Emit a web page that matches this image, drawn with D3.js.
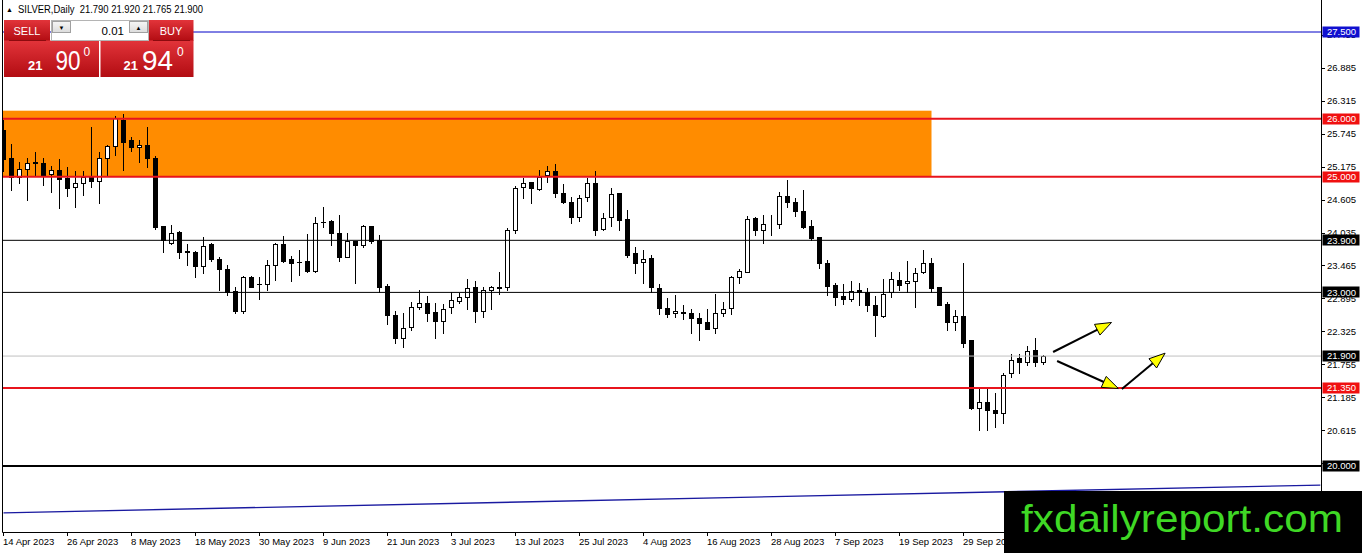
<!DOCTYPE html>
<html>
<head>
<meta charset="utf-8">
<script src="https://cdn.jsdelivr.net/npm/d3@7"></script>
<style>
  html, body { margin: 0; padding: 0; background: #fff; overflow: hidden; }
  svg { display: block; font-family: "Liberation Sans", Arial, sans-serif; }
</style>
</head>
<body>
<svg id="chart" width="1362" height="553"></svg>
<script>
// SILVER daily candles, 14 Apr 2023 .. (131 bars)
const opens = [
  25.80, 25.32, 25.00, 25.14, 25.25, 25.23, 25.05, 25.12, 24.97, 24.82,
  24.89, 25.00, 24.93, 25.33, 25.53, 25.98, 25.63, 25.51, 25.55, 25.33,
  24.15, 23.86, 24.05, 23.71, 23.70, 23.46, 23.84, 23.57, 23.40, 23.02,
  22.68, 23.26, 23.15, 23.15, 23.47, 23.84, 23.57, 23.53, 23.54, 23.37,
  24.22, 24.24, 24.02, 23.62, 23.89, 23.82, 24.15, 23.90, 23.11, 22.61,
  22.21, 22.41, 22.74, 22.81, 22.66, 22.51, 22.74, 22.86, 22.92, 23.10,
  22.67, 23.04, 23.09, 23.09, 24.07, 24.82, 24.90, 24.78, 25.03, 25.10,
  24.71, 24.57, 24.30, 24.64, 24.89, 24.09, 24.31, 24.71, 24.26, 23.68,
  23.53, 23.59, 23.07, 22.73, 22.65, 22.66, 22.64, 22.55, 22.48, 22.38,
  22.64, 22.73, 23.27, 23.36, 24.28, 24.07, 24.18, 24.18, 24.67, 24.56,
  24.40, 24.15, 23.95, 23.50, 23.13, 22.93, 22.88, 23.04, 23.01, 22.78,
  22.59, 23.01, 23.21, 23.16, 23.19, 23.36, 23.50, 23.09, 22.80, 22.49,
  22.59, 22.17, 21.00, 21.11, 20.97, 20.92, 21.61, 21.86, 21.79, 22.00, 21.79
];
const highs = [
  25.98, 25.56, 25.26, 25.32, 25.43, 25.32, 25.18, 25.30, 25.17, 25.09,
  25.09, 25.86, 25.43, 25.55, 26.04, 26.08, 25.69, 25.63, 25.86, 25.36,
  24.15, 24.16, 24.06, 23.84, 23.71, 23.96, 23.86, 23.62, 23.47, 23.10,
  23.28, 23.28, 23.27, 23.56, 23.86, 23.97, 23.63, 23.73, 24.01, 24.31,
  24.48, 24.25, 24.34, 24.02, 23.89, 24.16, 24.15, 23.99, 23.15, 22.68,
  22.64, 22.84, 23.04, 22.93, 22.82, 22.80, 23.01, 22.99, 23.24, 23.19,
  23.10, 23.11, 23.36, 24.11, 24.84, 24.97, 24.90, 25.11, 25.18, 25.22,
  24.87, 24.64, 24.68, 24.97, 25.10, 24.37, 24.80, 24.71, 24.42, 23.78,
  23.73, 23.65, 23.15, 22.90, 22.95, 22.78, 22.71, 22.65, 22.72, 22.97,
  22.84, 23.28, 23.40, 24.32, 24.31, 24.33, 24.33, 24.74, 24.95, 24.63,
  24.77, 24.25, 23.96, 23.56, 23.16, 23.15, 23.19, 23.17, 23.07, 22.93,
  23.24, 23.36, 23.36, 23.55, 23.43, 23.73, 23.59, 23.09, 22.84, 22.70,
  23.50, 22.17, 21.34, 21.36, 21.26, 21.60, 21.94, 21.94, 22.07, 22.21, 21.92
];
const lows = [
  25.10, 24.77, 24.89, 24.60, 25.03, 24.86, 24.74, 24.45, 24.67, 24.47,
  24.68, 24.83, 24.54, 25.03, 25.38, 25.12, 25.45, 25.26, 25.17, 24.09,
  23.69, 23.83, 23.59, 23.47, 23.27, 23.34, 23.55, 23.05, 22.95, 22.65,
  22.64, 23.09, 22.88, 23.04, 23.21, 23.53, 23.19, 23.30, 23.36, 23.36,
  24.13, 23.82, 23.55, 23.61, 23.17, 23.78, 23.86, 23.01, 22.45, 22.13,
  22.06, 22.35, 22.71, 22.51, 22.22, 22.29, 22.65, 22.81, 22.71, 22.48,
  22.57, 22.71, 22.97, 23.05, 24.03, 24.63, 24.55, 24.77, 24.90, 24.65,
  24.54, 24.20, 24.24, 24.58, 23.99, 24.07, 24.14, 24.07, 23.62, 23.34,
  23.16, 23.01, 22.63, 22.58, 22.58, 22.54, 22.30, 22.17, 22.36, 22.29,
  22.59, 22.63, 23.16, 23.36, 23.99, 23.86, 23.99, 24.12, 24.48, 24.32,
  24.11, 23.91, 23.43, 22.95, 22.78, 22.80, 22.86, 22.78, 22.68, 22.24,
  22.57, 22.92, 23.04, 23.01, 22.75, 23.33, 23.01, 22.78, 22.35, 22.35,
  22.06, 20.98, 20.63, 20.63, 20.67, 20.75, 21.53, 21.60, 21.75, 21.72, 21.765
];
const closes = [
  25.30, 25.00, 25.13, 25.23, 25.23, 25.03, 25.12, 24.96, 24.81, 24.89,
  25.00, 24.93, 25.32, 25.53, 26.01, 25.60, 25.51, 25.55, 25.33, 24.13,
  23.91, 24.03, 23.69, 23.70, 23.45, 23.80, 23.57, 23.40, 23.00, 22.68,
  23.26, 23.10, 23.14, 23.47, 23.84, 23.55, 23.51, 23.52, 23.37, 24.20,
  24.21, 24.02, 23.61, 23.89, 23.82, 24.15, 23.88, 23.09, 22.61, 22.22,
  22.38, 22.74, 22.81, 22.65, 22.51, 22.72, 22.87, 22.92, 23.07, 22.67,
  23.04, 23.10, 23.08, 24.08, 24.80, 24.89, 24.80, 25.00, 25.09, 24.71,
  24.57, 24.30, 24.63, 24.89, 24.08, 24.28, 24.70, 24.25, 23.65, 23.51,
  23.57, 23.09, 22.73, 22.63, 22.68, 22.65, 22.55, 22.47, 22.36, 22.64,
  22.71, 23.26, 23.37, 24.26, 24.07, 24.18, 24.18, 24.67, 24.57, 24.40,
  24.13, 23.94, 23.50, 23.11, 22.92, 22.88, 23.03, 23.01, 22.78, 22.61,
  22.98, 23.23, 23.13, 23.19, 23.34, 23.50, 23.07, 22.78, 22.49, 22.59,
  22.13, 21.00, 21.11, 20.96, 20.92, 21.57, 21.84, 21.79, 21.99, 21.79, 21.90
];

// date labels, one every 8 bars
const dateLabels = [
  '14 Apr 2023', '26 Apr 2023', '8 May 2023', '18 May 2023', '30 May 2023',
  '9 Jun 2023', '21 Jun 2023', '3 Jul 2023', '13 Jul 2023', '25 Jul 2023',
  '4 Aug 2023', '16 Aug 2023', '28 Aug 2023', '7 Sep 2023', '19 Sep 2023', '29 Sep 2023'
];
const priceTicks = [27.455, 26.885, 26.315, 25.745, 25.175, 24.605, 24.035,
  23.465, 22.895, 22.325, 21.755, 21.185, 20.615, 20.045];

// horizontal levels drawn on the chart
const levels = [27.5, 26.0, 25.0, 23.9, 23.0, 21.9, 21.35, 20.0];
// resistance zone [startBar, endBar, lowPrice, highPrice]
const zone = [-0.5, 116, 25.0, 26.14];
// trend line [bar, price] at both ends
const trendLine = [[0, 19.19], [164.6, 19.67]];
// projection arrows [fromBar, fromPrice, toBar, toPrice]
const arrows = [
  [131.2, 21.97, 138.5, 22.48],
  [131.7, 21.815, 139.35, 21.34],
  [139.8, 21.33, 145.2, 21.95]
];

const LEVEL_STYLE = {
  27.5:  { line: '#0000c8', w: 1, badge: '#1010d0' },
  26:    { line: '#e8141c', w: 2, badge: '#f01010' },
  25:    { line: '#e8141c', w: 2, badge: '#f01010' },
  23.9:  { line: '#000', w: 1, badge: '#000' },
  23:    { line: '#000', w: 1, badge: '#000' },
  21.9:  { line: '#c0c0c0', w: 1, badge: '#000' },
  21.35: { line: '#e8141c', w: 2, badge: '#f01010' },
  20:    { line: '#000', w: 2, badge: '#000' }
};

const W = 1362, H = 553;
const plot = { left: 3, right: 1321, top: 0, bottom: 532 };

const svg = d3.select('#chart');
const x = d3.scaleLinear().domain([0, 164.6]).range([3.5, 3.5 + 8 * 164.6]);
const y = d3.scaleLinear().domain([20, 27.5]).range([466, 32]);

const defs = svg.append('defs');
defs.append('clipPath').attr('id', 'plotClip')
  .append('rect')
  .attr('x', plot.left).attr('y', plot.top)
  .attr('width', plot.right - plot.left).attr('height', plot.bottom - plot.top);

const redGrad = defs.append('linearGradient').attr('id', 'redGrad')
  .attr('x1', 0).attr('y1', 0).attr('x2', 0).attr('y2', 1);
redGrad.append('stop').attr('offset', '0%').attr('stop-color', '#e2343a');
redGrad.append('stop').attr('offset', '100%').attr('stop-color', '#b20c12');
const btnGrad = defs.append('linearGradient').attr('id', 'btnGrad')
  .attr('x1', 0).attr('y1', 0).attr('x2', 0).attr('y2', 1);
btnGrad.append('stop').attr('offset', '0%').attr('stop-color', '#f6f6f6');
btnGrad.append('stop').attr('offset', '100%').attr('stop-color', '#dcdcdc');

svg.append('rect').attr('width', W).attr('height', H).attr('fill', '#fff');

const g = svg.append('g').attr('clip-path', 'url(#plotClip)');

// zone
g.append('rect')
  .attr('x', x(zone[0])).attr('y', y(zone[3]))
  .attr('width', x(zone[1]) - x(zone[0]))
  .attr('height', y(zone[2]) - y(zone[3]))
  .attr('fill', '#ff8c00');

// trend line
g.append('line')
  .attr('x1', x(trendLine[0][0])).attr('y1', y(trendLine[0][1]))
  .attr('x2', x(trendLine[1][0])).attr('y2', y(trendLine[1][1]))
  .attr('stroke', '#1a1aa0').attr('stroke-width', 1.4);

// candles
const bars = opens.map((o, i) => ({ i, o, h: highs[i], l: lows[i], c: closes[i] }));

g.append('g').selectAll('line')
  .data(bars).join('line')
  .attr('x1', d => x(d.i)).attr('x2', d => x(d.i))
  .attr('y1', d => Math.round(y(d.h))).attr('y2', d => Math.round(y(d.l)) + 1)
  .attr('stroke', '#000').attr('stroke-width', 1);

g.append('g').selectAll('rect')
  .data(bars).join('rect')
  .each(function (d) {
    const top = Math.round(y(Math.max(d.o, d.c)));
    const bot = Math.round(y(Math.min(d.o, d.c)));
    const el = d3.select(this);
    if (d.c >= d.o) {
      el.attr('x', x(d.i) - 2).attr('width', 4)
        .attr('y', top + 0.5).attr('height', Math.max(0, bot - top))
        .attr('fill', '#fff').attr('stroke', '#000').attr('stroke-width', 1);
    } else {
      el.attr('x', x(d.i) - 2.5).attr('width', 5)
        .attr('y', top).attr('height', Math.max(1, bot - top + 1))
        .attr('fill', '#000');
    }
  });

// horizontal levels
g.append('g').selectAll('line')
  .data(levels).join('line')
  .attr('x1', plot.left).attr('x2', plot.right)
  .attr('y1', d => y(d)).attr('y2', d => y(d))
  .attr('stroke', d => LEVEL_STYLE[d].line)
  .attr('stroke-width', d => LEVEL_STYLE[d].w);

// arrows
const arrowG = g.append('g');
arrows.forEach(a => {
  const x1 = x(a[0]), y1 = y(a[1]), x2 = x(a[2]), y2 = y(a[3]);
  const len = Math.hypot(x2 - x1, y2 - y1);
  const ux = (x2 - x1) / len, uy = (y2 - y1) / len;
  const bx = x2 - ux * 16, by = y2 - uy * 16;
  arrowG.append('line')
    .attr('x1', x1).attr('y1', y1).attr('x2', bx + ux * 2).attr('y2', by + uy * 2)
    .attr('stroke', '#000').attr('stroke-width', 2);
  arrowG.append('polygon')
    .attr('points', [[x2, y2], [bx - uy * 6, by + ux * 6], [bx + uy * 6, by - ux * 6]].join(' '))
    .attr('fill', '#ffff00').attr('stroke', '#000').attr('stroke-width', 1)
    .attr('stroke-linejoin', 'round');
});

// frame
svg.append('path')
  .attr('d', `M${plot.left - 0.5},${plot.top}V${plot.bottom + 0.5}H${plot.right + 0.5}V${plot.top}`)
  .attr('fill', 'none').attr('stroke', '#000').attr('stroke-width', 1);

// price axis
const yAxisG = svg.append('g');
yAxisG.selectAll('line')
  .data(priceTicks).join('line')
  .attr('x1', plot.right + 1).attr('x2', plot.right + 4)
  .attr('y1', d => Math.round(y(d)) + 0.5).attr('y2', d => Math.round(y(d)) + 0.5)
  .attr('stroke', '#000');
yAxisG.selectAll('text')
  .data(priceTicks).join('text')
  .attr('x', plot.right + 6).attr('y', d => y(d)).attr('dy', '0.35em')
  .attr('font-size', 9.5).attr('fill', '#000')
  .text(d => d3.format('.3f')(d));

const badgeG = svg.append('g');
levels.forEach(p => {
  const yc = y(p);
  badgeG.append('rect')
    .attr('x', plot.right + 1.5).attr('y', Math.round(yc) - 5.5)
    .attr('width', 37).attr('height', 11)
    .attr('fill', LEVEL_STYLE[p].badge);
  badgeG.append('text')
    .attr('x', plot.right + 6).attr('y', yc).attr('dy', '0.36em')
    .attr('font-size', 9.5).attr('fill', '#fff')
    .text(d3.format('.3f')(p));
});

// time axis
const xAxisG = svg.append('g');
xAxisG.selectAll('line')
  .data(dateLabels).join('line')
  .attr('x1', (d, k) => x(k * 8)).attr('x2', (d, k) => x(k * 8))
  .attr('y1', plot.bottom).attr('y2', plot.bottom + 4)
  .attr('stroke', '#000');
xAxisG.selectAll('text')
  .data(dateLabels).join('text')
  .attr('x', (d, k) => x(k * 8) - 0.5).attr('y', 545)
  .attr('font-size', 9.5).attr('fill', '#000')
  .text(d => d);

// header
svg.append('text').attr('x', 6).attr('y', 12).attr('font-size', 7).text('▲');
svg.append('text').attr('x', 18).attr('y', 13).attr('font-size', 10).attr('fill', '#000')
  .attr('xml:space', 'preserve')
  .attr('textLength', 185).attr('lengthAdjust', 'spacingAndGlyphs')
  .text('SILVER,Daily  21.790 21.920 21.765 21.900');

// one-click trading panel
const panel = svg.append('g');
panel.append('rect').attr('x', 4).attr('y', 20).attr('width', 46).attr('height', 21).attr('fill', 'url(#redGrad)');
panel.append('rect').attr('x', 149).attr('y', 20).attr('width', 44.5).attr('height', 21).attr('fill', 'url(#redGrad)');
panel.append('rect').attr('x', 4).attr('y', 40.5).attr('width', 95).attr('height', 36.5).attr('fill', 'url(#redGrad)');
panel.append('rect').attr('x', 100.5).attr('y', 40.5).attr('width', 93).attr('height', 36.5).attr('fill', 'url(#redGrad)');
panel.append('line').attr('x1', 9).attr('x2', 46).attr('y1', 40.5).attr('y2', 40.5).attr('stroke', '#8c0a0e');
panel.append('line').attr('x1', 153).attr('x2', 190).attr('y1', 40.5).attr('y2', 40.5).attr('stroke', '#8c0a0e');
panel.append('rect').attr('x', 51.5).attr('y', 20.5).attr('width', 97).attr('height', 20).attr('fill', '#fff').attr('stroke', '#b4b4b4');
panel.append('rect').attr('x', 52.5).attr('y', 21.5).attr('width', 18).attr('height', 11).attr('fill', 'url(#btnGrad)').attr('stroke', '#a0a0a0');
panel.append('rect').attr('x', 129.5).attr('y', 21.5).attr('width', 18).attr('height', 11).attr('fill', 'url(#btnGrad)').attr('stroke', '#a0a0a0');
panel.append('text').attr('x', 61.5).attr('y', 29.5).attr('text-anchor', 'middle').attr('font-size', 6).text('▼');
panel.append('text').attr('x', 138.5).attr('y', 29.5).attr('text-anchor', 'middle').attr('font-size', 6).text('▲');
panel.append('text').attr('x', 124).attr('y', 34.5).attr('text-anchor', 'end').attr('font-size', 11.5).text('0.01');
panel.append('text').attr('x', 27).attr('y', 35).attr('text-anchor', 'middle').attr('font-size', 11).attr('fill', '#fff').text('SELL');
panel.append('text').attr('x', 171).attr('y', 35).attr('text-anchor', 'middle').attr('font-size', 11).attr('fill', '#fff').text('BUY');

function quote(big, xs) {
  panel.append('text').attr('x', xs[0]).attr('y', 70).attr('font-size', 13).attr('font-weight', 'bold').attr('fill', '#fff').text('21');
  panel.append('text').attr('x', xs[1]).attr('y', 70).attr('font-size', 28).attr('fill', '#fff')
    .attr('textLength', xs[2]).attr('lengthAdjust', 'spacingAndGlyphs').text(big);
  panel.append('text').attr('x', xs[3]).attr('y', 56).attr('font-size', 12).attr('fill', '#fff').text('0');
}
quote('90', [28, 55.5, 25, 83.5]);
quote('94', [123.5, 142, 31, 177]);

// watermark
svg.append('rect').attr('x', 1004).attr('y', 491).attr('width', 358).attr('height', 62).attr('fill', '#000');
svg.append('text').attr('x', 1021).attr('y', 532).attr('font-size', 39).attr('fill', '#3fd825')
  .attr('textLength', 322).attr('lengthAdjust', 'spacingAndGlyphs')
  .text('fxdailyreport.com');
</script>
</body>
</html>
